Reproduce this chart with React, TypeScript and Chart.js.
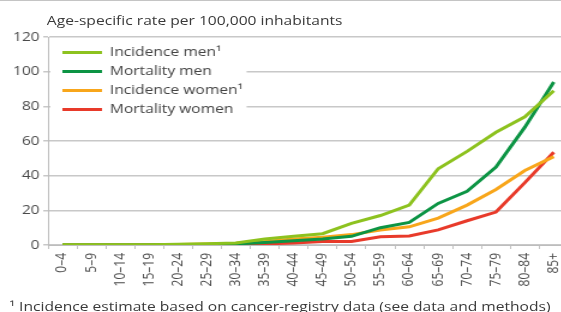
import React, { useEffect, useRef } from "react";
import { Chart, registerables } from "chart.js";

Chart.register(...registerables);

const ageGroups = [
  "0–4", "5–9", "10–14", "15–19", "20–24", "25–29", "30–34", "35–39", "40–44",
  "45–49", "50–54", "55–59", "60–64", "65–69", "70–74", "75–79", "80–84", "85+",
];

const incidenceMen = [0.1, 0.1, 0.1, 0.2, 0.4, 0.7, 1.2, 3.5, 5, 6.5, 12.5, 17, 23, 44, 54, 65, 74, 89];
const mortalityMen = [0, 0, 0, 0, 0.1, 0.3, 0.6, 1.5, 2.5, 3.5, 5, 10, 13, 24, 31, 45, 68, 94];
const incidenceWomen = [0, 0, 0, 0.1, 0.3, 0.6, 1, 2, 3.5, 4.5, 6, 8.7, 10.5, 15.5, 23, 32, 43, 51];
const mortalityWomen = [0, 0, 0, 0, 0, 0.1, 0.3, 0.6, 1.2, 2, 2, 4.8, 5.2, 8.7, 14, 19, 36, 53.5];

const seriesLabels = ["Incidence men¹", "Mortality men", "Incidence women¹", "Mortality women"];
const seriesColors = ["#8dc21f", "#0c9444", "#f8a61b", "#e83a2a"];

const yTicks = [0, 20, 40, 60, 80, 100, 120];

const titleText = "Age-specific rate per 100,000 inhabitants";
const footnoteText = "¹ Incidence estimate based on cancer-registry data (see data and methods)";

const FONT = "'Open Sans', 'Noto Sans', sans-serif";
const STRETCH = 1.2;

const legendBackground = {
  id: "legendBackground",
  afterLayout(chart: any) {
    const lg = chart.legend;
    if (!lg) return;
    const ca = chart.chartArea;
    lg.left = ca.left + 6;
    lg.top = ca.top + 3;
    lg.right = ca.right;
    lg.bottom = ca.bottom;
  },
  beforeDatasetsDraw(chart: any) {
    const lg = chart.legend;
    if (!lg || !lg.legendHitBoxes || !lg.legendHitBoxes.length) return;
    const hb = lg.legendHitBoxes;
    const l = Math.min(...hb.map((h: any) => h.left)) - 10;
    const r = Math.max(...hb.map((h: any) => h.left + h.width)) + 3;
    const t = hb[0].top - 3;
    const last = hb[hb.length - 1];
    const b = last.top + last.height + 6;
    const ctx = chart.ctx;
    ctx.save();
    ctx.fillStyle = "#ffffff";
    ctx.fillRect(l, t, r - l, b - t);
    ctx.restore();
    lg.draw();
  },
};

export default function App() {
  const canvasRef = useRef<HTMLCanvasElement | null>(null);

  useEffect(() => {
    if (!canvasRef.current) return;
    const series = [incidenceMen, mortalityMen, incidenceWomen, mortalityWomen];
    const chart = new Chart(canvasRef.current, {
      type: "line",
      data: {
        labels: ageGroups,
        datasets: series.map((values, i) => ({
          label: seriesLabels[i],
          data: values,
          borderColor: seriesColors[i],
          backgroundColor: seriesColors[i],
          borderWidth: 3,
          pointRadius: 0,
          pointHoverRadius: 0,
          tension: 0,
          fill: false,
        })),
      },
      options: {
        responsive: false,
        animation: false,
        layout: { padding: { top: 37, right: 5, left: 0, bottom: 0 } },
        plugins: {
          tooltip: { enabled: false },
          title: { display: false },
          legend: {
            position: "chartArea" as any,
            align: "start",
            labels: {
              boxWidth: 33,
              boxHeight: 3,
              padding: 6,
              color: "#444444",
              font: { family: FONT, size: 13 },
              generateLabels: (c: any) =>
                Chart.defaults.plugins.legend.labels
                  .generateLabels(c)
                  .map((item: any) => ({ ...item, lineWidth: 0 })),
            },
          },
        },
        scales: {
          x: {
            type: "category",
            offset: true,
            afterFit: (scale: any) => {
              scale.height = 67;
            },
            grid: {
              display: true,
              drawOnChartArea: false,
              drawTicks: true,
              tickLength: 4,
              color: "#c2c2c2",
              offset: true,
            },
            border: { display: true, color: "#bdbdbd", width: 1 },
            ticks: {
              autoSkip: false,
              maxRotation: 90,
              minRotation: 90,
              padding: 4,
              color: "#4a4a4a",
              font: { family: FONT, size: 12 },
            },
          },
          y: {
            min: 0,
            max: 120,
            afterFit: (scale: any) => {
              scale.width = 40;
            },
            afterBuildTicks: (scale: any) => {
              scale.ticks = yTicks.map((v) => ({ value: v }));
            },
            grid: {
              color: "#c8c8c8",
              lineWidth: 1.5,
              drawTicks: true,
              tickLength: 4,
            },
            border: { display: true, color: "#bdbdbd", width: 1 },
            ticks: {
              padding: 3,
              color: "#4a4a4a",
              font: { family: FONT, size: 13 },
            },
          },
        },
      },
      plugins: [legendBackground],
    });
    return () => chart.destroy();
  }, []);

  return (
    <div
      style={{
        position: "absolute",
        left: 0,
        top: 0,
        width: 561,
        height: 312,
        overflow: "hidden",
        background: "#ffffff",
      }}
    >
      <div
        style={{
          position: "absolute",
          left: 0,
          top: 0,
          width: 480,
          height: 312,
          transform: `scaleX(${STRETCH})`,
          transformOrigin: "0 0",
        }}
      >
        <canvas ref={canvasRef} width={480} height={312} style={{ position: "absolute", left: 0, top: 0 }} />
        <div
          style={{
            position: "absolute",
            left: 39,
            top: 12,
            fontFamily: FONT,
            fontSize: 13,
            lineHeight: "16px",
            color: "#3a3a3a",
            whiteSpace: "nowrap",
          }}
        >
          {titleText}
        </div>
        <div
          style={{
            position: "absolute",
            left: 8,
            top: 298,
            fontFamily: FONT,
            fontSize: 13,
            lineHeight: "16px",
            color: "#3a3a3a",
            whiteSpace: "nowrap",
          }}
        >
          {footnoteText}
        </div>
      </div>
      <div style={{ position: "absolute", left: 0, top: 0, width: 561, height: 1, background: "#c4c4c4" }} />
    </div>
  );
}
